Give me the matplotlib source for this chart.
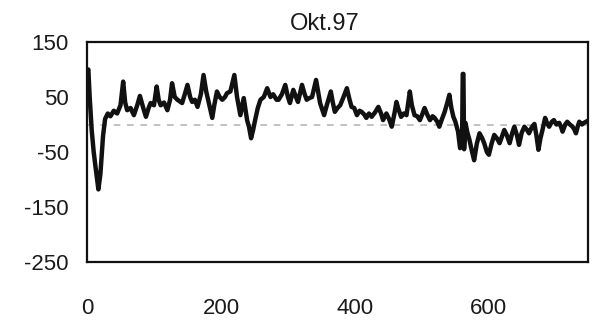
import matplotlib
matplotlib.use("Agg")
import matplotlib.pyplot as plt

# Data
x_vals = [0, 2, 4, 7, 10, 13, 17, 20, 24, 27, 31, 35, 40, 45, 50, 54, 57, 60, 65, 70,
          75, 79, 84, 88, 92, 95, 100, 104, 107, 110, 115, 120, 124, 127, 131, 135, 142, 146, 150, 154,
          157, 161, 165, 170, 174, 178, 182, 187, 190, 194, 198, 202, 206, 209, 214, 220, 224, 229, 234, 239,
          242, 245, 248, 251, 255, 259, 264, 269, 274, 278, 283, 286, 291, 296, 300, 303, 308, 312, 315, 321,
          325, 328, 332, 336, 342, 345, 348, 354, 358, 364, 367, 370, 374, 378, 383, 388, 392, 395, 399, 403,
          407, 410, 414, 417, 421, 425, 430, 435, 439, 442, 447, 451, 455, 459, 462, 465, 469, 473, 477, 482,
          485, 489, 493, 497, 501, 504, 508, 512, 516, 519, 523, 526, 530, 534, 538, 541, 544, 547, 550, 554,
          557, 560, 561, 562, 563, 565, 568, 571, 575, 578, 582, 586, 590, 593, 597, 600, 604, 608, 612, 616,
          620, 623, 627, 631, 635, 638, 642, 645, 649, 653, 657, 660, 664, 668, 671, 674, 677, 680, 684, 687,
          690, 694, 697, 701, 705, 708, 710, 714, 717, 721, 725, 728, 730, 733, 735, 739, 742, 745]
y_vals = [95, 100, 50, -10, -50, -80, -118, -90, -20, 10, 20, 15, 25, 20, 35, 78, 40, 26, 30, 17,
          35, 52, 30, 14, 30, 39, 35, 69, 45, 35, 40, 26, 45, 75, 50, 45, 39, 55, 72, 50,
          41, 45, 32, 55, 90, 60, 39, 12, 35, 60, 50, 45, 50, 57, 60, 90, 50, 17, 48, 8,
          -5, -25, -10, 8, 30, 45, 50, 66, 50, 55, 45, 45, 55, 72, 50, 39, 63, 50, 41, 72,
          55, 45, 48, 50, 81, 60, 39, 17, 35, 60, 40, 23, 30, 35, 50, 66, 45, 32, 30, 17,
          25, 23, 18, 12, 20, 14, 22, 32, 20, 8, 20, 10, -4, 20, 41, 28, 14, 20, 17, 60,
          35, 17, 15, 8, 20, 30, 18, 8, 15, 12, 5, -4, 10, 23, 40, 54, 30, 14, 5, -13,
          -43, -30, 92, 92, -45, 3, -15, -28, -50, -65, -35, -16, -25, -34, -50, -55, -35, -19, -25, -34,
          -20, -10, -20, -34, -15, -4, -20, -37, -15, -4, -10, -16, -5, 1, -20, -46, -25, -10, 12, 2,
          -4, 5, 8, 0, 3, -5, -13, 0, 5, 0, -4, -10, -16, -2, 5, 0, 3, 5]

x_ticks = [0, 200, 400, 600]
y_ticks = [150, 50, -50, -150, -250]
title_text = "Okt.97"

plt.rcParams['font.family'] = ['Liberation Sans', 'DejaVu Sans']
plt.rcParams['axes.unicode_minus'] = False

fig = plt.figure(figsize=(5.96, 3.23), dpi=100)
ax = fig.add_axes([87/596, 1 - 262/323, (588 - 87)/596, (262 - 42)/323])

ax.axhline(0, color='#b8b8b8', lw=1.2, ls=(0, (4, 4)), zorder=1)
ax.plot(x_vals, y_vals, color='#111111', lw=3.2, solid_joinstyle='round', zorder=2)

ax.set_xlim(0, 748)
ax.set_ylim(-250, 150)
ax.set_xticks(x_ticks)
ax.set_yticks(y_ticks)
ax.tick_params(axis='both', length=0, labelsize=16, colors='#1a1a1a')
ax.tick_params(axis='x', pad=26)
ax.tick_params(axis='y', pad=13)
for s in ax.spines.values():
    s.set_linewidth(1.6)
    s.set_color('#111111')

ax.text(0.475, 1.03, title_text, transform=ax.transAxes, ha='center', va='bottom',
        fontsize=17, color='#1a1a1a')

fig.savefig("out.png", dpi=100)
